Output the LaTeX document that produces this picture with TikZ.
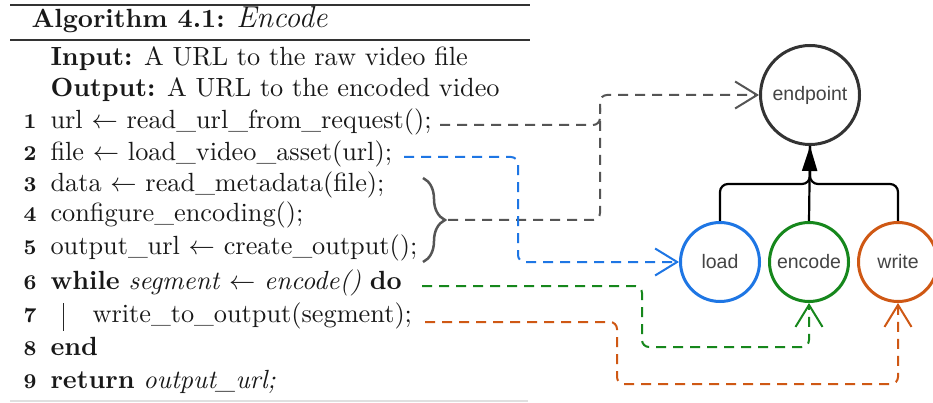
\documentclass[tikz,border=0pt]{standalone}
\usepackage{fontspec}
\newfontfamily\labelfont{Liberation Sans}
\usetikzlibrary{arrows.meta,decorations.pathreplacing}

\definecolor{inkgray}{RGB}{85,85,85}
\definecolor{loadblue}{RGB}{30,118,228}
\definecolor{encgreen}{RGB}{22,135,28}
\definecolor{wrorange}{RGB}{207,88,20}
\definecolor{labelgray}{RGB}{68,68,68}

\tikzset{
  algtext/.style={anchor=base west, inner sep=0pt, scale=2.63, text=black!90},
  lnum/.style={anchor=base east, inner sep=0pt, scale=2.63, text=black!90, font=\footnotesize\bfseries},
  rulebar/.style={line width=2pt, black!80},
  proc/.style={circle, draw, line width=3pt, minimum size=79pt, inner sep=0pt,
    font=\labelfont\fontsize{19.5}{22}\selectfont, text=labelgray},
  flow/.style={line width=2pt, dash pattern=on 10pt off 7pt, rounded corners=7pt,
    -{Straight Barb[length=22pt,width=27pt,line width=2pt]}},
  feed/.style={line width=2pt, dash pattern=on 10pt off 7pt, rounded corners=7pt},
  bus/.style={line width=2.2pt, black, rounded corners=8pt}
}

\begin{document}
\begin{tikzpicture}[x=1pt, y=-1pt]
  \useasboundingbox (0,0) rectangle (933,403);
  \fill[white] (0,0) rectangle (933,403);

  % algorithm frame
  \draw[rulebar] (10,5) -- (530,5);
  \draw[rulebar] (10,40) -- (530,40);
  \draw[line width=2pt, black!12] (10,401) -- (528,401);

  % algorithm listing
  \node[algtext] (title) at (31,28) {\textbf{Algorithm 4.1:} {\fontsize{11.5}{13}\selectfont\textit{Encode}}};
  \node[algtext] (inp) at (50,66) {\textbf{Input:} A URL to the raw video file};
  \node[algtext] (outp) at (50,97) {\textbf{Output:} A URL to the encoded video};

  \node[lnum] (n1) at (37,129) {1};
  \node[algtext] (l1) at (50,129) {url $\leftarrow$ read\_url\_from\_request();};
  \node[lnum] (n2) at (37,161) {2};
  \node[algtext] (l2) at (50,161) {file $\leftarrow$ load\_video\_asset(url);};
  \node[lnum] (n3) at (37,192) {3};
  \node[algtext] (l3) at (50,192) {data $\leftarrow$ read\_metadata(file);};
  \node[lnum] (n4) at (37,222) {4};
  \node[algtext] (l4) at (50,222) {configure\_encoding();};
  \node[lnum] (n5) at (37,254) {5};
  \node[algtext] (l5) at (50,254) {output\_url $\leftarrow$ create\_output();};
  \node[lnum] (n6) at (37,289) {6};
  \node[algtext] (l6) at (50,289) {\textbf{while} \textit{segment} $\leftarrow$ \textit{encode()} \textbf{do}};
  \node[lnum] (n7) at (37,322) {7};
  \node[algtext] (l7) at (92,322) {write\_to\_output(segment);};
  \node[lnum] (n8) at (37,355) {8};
  \node[algtext] (l8) at (50,355) {\textbf{end}};
  \node[lnum] (n9) at (37,388) {9};
  \node[algtext] (l9) at (50,388) {\textbf{return} \textit{output\_url;}};

  % loop body bar
  \draw[line width=1pt, black!85] (63,303) -- (63,331);

  % brace grouping lines 3 to 5
  \draw[decorate, decoration={brace, amplitude=22pt}, line width=2.5pt, inkgray]
    (423,178) -- (423,262);

  % service nodes
  \node[proc, minimum size=99pt, draw=black!80] (ep) at (810,95) {endpoint};
  \node[proc, draw=loadblue] (load) at (720,262) {load};
  \node[proc, draw=encgreen] (enc) at (809,262) {encode};
  \node[proc, draw=wrorange] (wr) at (898,262) {write};

  % tree edges into the endpoint
  \coordinate (bus) at (810,184);
  \draw[bus] (load.north) |- (bus) -- (ep.south);
  \draw[bus] (wr.north) |- (bus) -- (ep.south);
  \draw[bus, -{Triangle[length=25pt,width=15pt]}] (enc.north) -- (ep.south);

  % dashed mappings from listing to services
  \coordinate (s1) at (440,125);
  \coordinate (sb) at (448,220);
  \coordinate (g1) at (600,220);
  \coordinate (m1) at (600,108);
  \draw[feed, inkgray] (s1) -| (m1);
  \draw[flow, inkgray] (sb) -- (g1) |- (ep.west);

  \coordinate (s2) at (404,157);
  \coordinate (b1) at (518,157);
  \draw[flow, loadblue] (s2) -- (b1) |- (load.west);

  \coordinate (s6) at (422,286);
  \coordinate (c6) at (642,347);
  \draw[flow, encgreen] (s6) -| (c6) -| (enc.south);

  \coordinate (s7) at (425,322);
  \coordinate (c7) at (617,384);
  \draw[flow, wrorange] (s7) -| (c7) -| (wr.south);
\end{tikzpicture}
\end{document}
